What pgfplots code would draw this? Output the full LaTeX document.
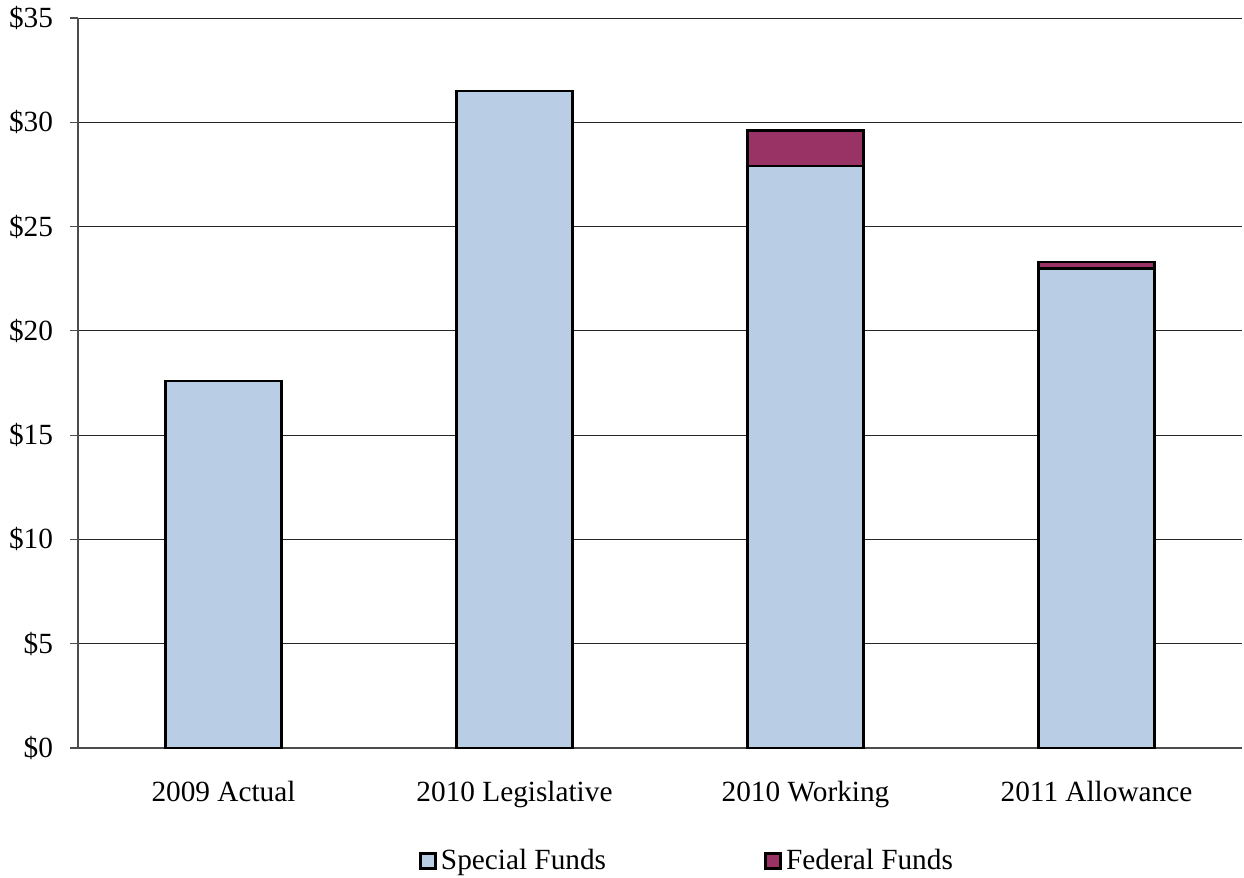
\documentclass[border=0pt]{standalone}
\usepackage{pgfplots}
\pgfplotsset{compat=1.18}
\usepackage{fontspec}
\setmainfont{Liberation Serif}
\definecolor{special}{HTML}{B9CDE5}
\definecolor{federal}{HTML}{993366}
\begin{document}
\begin{tikzpicture}
\path[use as bounding box] (-39bp,-65bp) rectangle (583bp,374bp);
\begin{axis}[
  at={(0,0)}, anchor=south west,
  scale only axis, width=582bp, height=365bp,
  font=\fontsize{14.7}{17}\selectfont,
  ybar stacked, bar width=0.4,
  xmin=-0.5, xmax=3.5, ymin=0, ymax=35,
  axis x line*=bottom, axis y line*=left,
  axis line style={black!70, line width=0.6pt},
  xtick={0,1,2,3},
  xticklabels={2009 Actual,2010 Legislative,2010 Working,2011 Allowance},
  major x tick style={draw=none},
  extra x ticks={-0.5,0.5,1.5,2.5,3.5},
  extra x tick labels={},
  extra x tick style={tick style={draw=black!70, line width=0.6pt}, major tick length=5bp, tick align=outside, grid=none},
  xticklabel style={yshift=-9bp},
  ytick={0,5,10,15,20,25,30,35},
  yticklabels={\$0,\$5,\$10,\$15,\$20,\$25,\$30,\$35},
  ymajorgrids, grid style={black!85, line width=0.5pt},
  tick align=outside, major tick length=4bp,
  tick style={black!70, line width=0.6pt},
  yticklabel style={xshift=-5bp},
  legend style={at={(0.524,-0.155)}, anchor=center, draw=none, fill=none,
    legend columns=2, /tikz/every even column/.append style={column sep=77bp},
    nodes={inner xsep=2bp},
    font=\fontsize{14.7}{17}\selectfont},
  legend image code/.code={\draw[#1, line width=1.5pt] (0bp,-3.75bp) rectangle (7.5bp,3.75bp);},
  legend cell align=left,
]
\addplot[fill=special, draw=black, line width=1.4pt] coordinates {(0,17.6) (1,31.5) (2,27.9) (3,23.0)};
\addlegendentry{Special Funds}
\addplot[fill=federal, draw=black, line width=1.4pt] coordinates {(0,0) (1,0) (2,1.7) (3,0.3)};
\addlegendentry{Federal Funds}
\end{axis}
\end{tikzpicture}
\end{document}
